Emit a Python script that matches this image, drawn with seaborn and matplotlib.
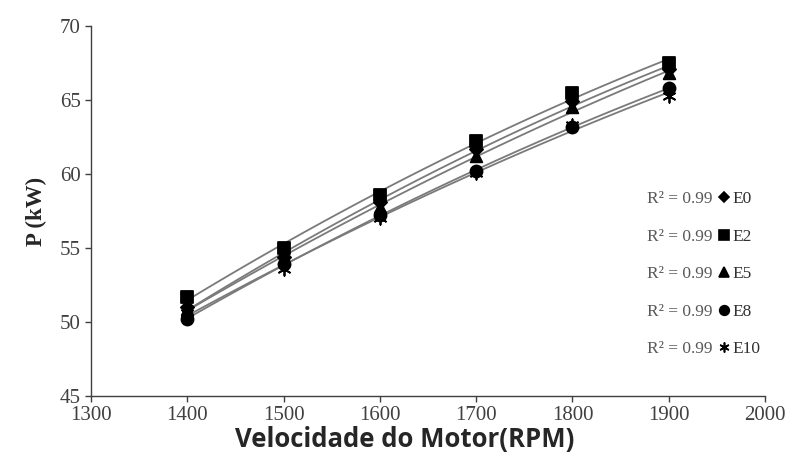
import matplotlib
matplotlib.use("Agg")
import matplotlib.pyplot as plt
import seaborn as sns
from matplotlib.lines import Line2D

RPM = [1400, 1500, 1600, 1700, 1800, 1900]
E0 = [51.0, 54.4, 58.1, 61.7, 64.9, 67.1]
E2 = [51.7, 55.0, 58.6, 62.2, 65.5, 67.5]
E5 = [50.9, 54.3, 57.8, 61.2, 64.5, 66.8]
E8 = [50.2, 53.9, 57.2, 60.2, 63.2, 65.8]
E10 = [50.6, 53.6, 57.0, 60.1, 63.3, 65.3]
FUELS = ["E0", "E2", "E5", "E8", "E10"]
SERIES = {"E0": E0, "E2": E2, "E5": E5, "E8": E8, "E10": E10}
R2_LABELS = ["R² = 0.99"] * 5

X_TICKS = list(range(1300, 2001, 100))
Y_TICKS = list(range(45, 71, 5))

MARKERS = {"E0": "D", "E2": "s", "E5": "^", "E8": "o", "E10": (6, 2, 0)}
SIZES = {"E0": 45, "E2": 85, "E5": 70, "E8": 75, "E10": 80}

sns.set_style("ticks")
plt.rcParams["font.family"] = ["Liberation Serif", "DejaVu Serif"]

fig, ax = plt.subplots(figsize=(7.89, 4.66), dpi=100)
fig.subplots_adjust(left=0.1153, right=0.9696, top=0.9442, bottom=0.1502)

for fuel in FUELS:
    sns.regplot(
        x=RPM,
        y=SERIES[fuel],
        order=2,
        ci=None,
        truncate=True,
        marker=MARKERS[fuel],
        color="black",
        scatter_kws={"s": SIZES[fuel], "zorder": 3, "linewidths": 1.3, "alpha": 1},
        line_kws={"color": "#7a7a7a", "linewidth": 1.3, "zorder": 2},
        ax=ax,
    )

ax.set_xlim(1300, 2000)
ax.set_ylim(45, 70)
ax.set_xticks(X_TICKS)
ax.set_yticks(Y_TICKS)
ax.tick_params(axis="both", labelsize=15, labelcolor="#404040", color="#404040",
               length=4, width=1.0, direction="out")
for side in ["left", "bottom"]:
    ax.spines[side].set_color("#404040")
    ax.spines[side].set_linewidth(1.0)
sns.despine(ax=ax)

ax.set_xlabel("Velocidade do Motor(RPM)", fontsize=18.5, fontweight="bold",
              family=["Open Sans", "DejaVu Sans"])
ax.xaxis.set_label_coords(0.466, -0.082)
ax.set_ylabel("P (kW)", fontsize=16.5, fontweight="bold", labelpad=9)

blank = [Line2D([], [], linestyle="none") for _ in FUELS]
marks = [
    Line2D([], [], linestyle="none", marker=MARKERS[f], color="black",
           markersize=(SIZES[f] ** 0.5) * 0.8, markeredgewidth=1.2)
    for f in FUELS
]
leg = ax.legend(
    blank + marks,
    R2_LABELS + FUELS,
    ncol=2,
    loc="upper right",
    bbox_to_anchor=(1.003, 0.572),
    frameon=False,
    borderaxespad=0,
    handlelength=0.7,
    handletextpad=0.1,
    columnspacing=0.35,
    labelspacing=1.23,
    fontsize=12.5,
)
for t in leg.get_texts()[:5]:
    t.set_color("#595959")
for t in leg.get_texts()[5:]:
    t.set_color("#303030")

fig.savefig("out.png", dpi=100)
